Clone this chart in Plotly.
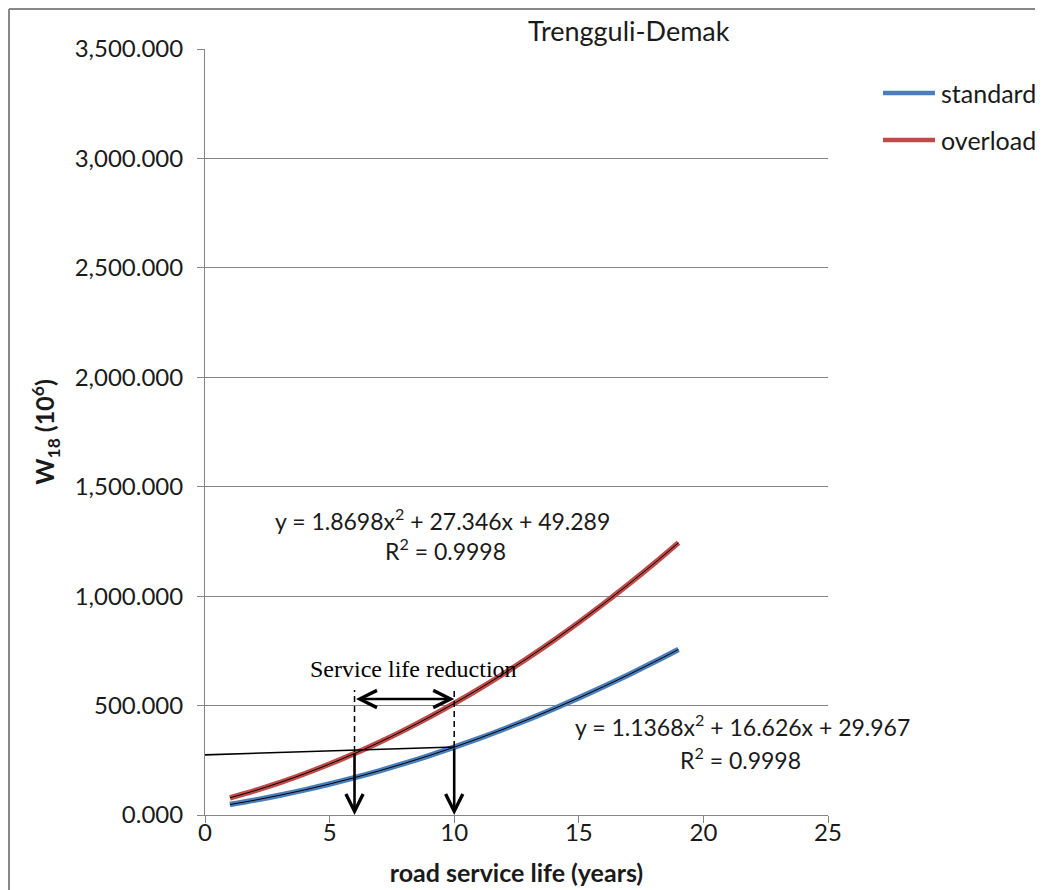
import plotly.graph_objects as go

# ---- data ----
years = list(range(1, 20))
standard = [47.7, 67.8, 90.1, 114.7, 141.5, 170.6, 202.1, 235.7, 271.7, 309.9,
            350.4, 393.2, 438.2, 485.5, 535.1, 587.0, 641.1, 697.6, 756.2]
overload = [78.5, 111.5, 148.2, 188.6, 232.8, 280.7, 332.3, 387.7, 446.9, 509.7,
            576.3, 646.7, 720.8, 798.6, 880.2, 965.5, 1054.5, 1147.3, 1243.9]

series_names = ["standard", "overload"]
series_colors = ["#4A7EBB", "#BE4B48"]

x_ticks = [0, 5, 10, 15, 20, 25]
y_ticks = [0, 500, 1000, 1500, 2000, 2500, 3000, 3500]

# annotation geometry
reduction_years = [6, 10]          # overload / standard years at same W18
reduction_w = [288, 311]           # where the horizontal guide meets each curve
guide_start = [-0.2, 274]          # left end of the thin guide line
dash_top = 571                     # top of the dashed verticals
double_arrow_y = 530               # level of the double-headed arrow

eq_overload = ["y = 1.8698x<sup>2</sup> + 27.346x + 49.289", "R<sup>2</sup> = 0.9998"]
eq_standard = ["y = 1.1368x<sup>2</sup> + 16.626x + 29.967", "R<sup>2</sup> = 0.9998"]

FONT = "Lato"
GRID = "#868686"
TXT = "#1a1a1a"

fig = go.Figure()
for name, col, vals in zip(series_names, series_colors, [standard, overload]):
    fig.add_trace(go.Scatter(x=years, y=vals, mode="lines", name=name,
                             line=dict(color=col, width=5.5, shape="spline"),
                             showlegend=False))
for vals in [standard, overload]:
    fig.add_trace(go.Scatter(x=years, y=vals, mode="lines",
                             line=dict(color="black", width=1.0, shape="spline"),
                             showlegend=False, hoverinfo="skip"))

# guide line
fig.add_trace(go.Scatter(x=[guide_start[0], reduction_years[1]],
                         y=[guide_start[1], reduction_w[1]], mode="lines",
                         line=dict(color="black", width=1.6),
                         showlegend=False, hoverinfo="skip", cliponaxis=False))

shapes = []
annotations = []
for yr, w in zip(reduction_years, reduction_w):
    shapes.append(dict(type="line", xref="x", yref="y", x0=yr, x1=yr, y0=w, y1=dash_top,
                       line=dict(color="black", width=1.5, dash="6px,4px")))
    annotations.append(dict(x=yr, y=0, ax=yr, ay=w, xref="x", yref="y", axref="x", ayref="y",
                            showarrow=True, arrowhead=5, arrowsize=1.3, arrowwidth=2.6,
                            arrowcolor="black", text=""))

annotations.append(dict(x=reduction_years[1], y=double_arrow_y, ax=reduction_years[0], ay=double_arrow_y,
                        xref="x", yref="y", axref="x", ayref="y", showarrow=True,
                        arrowhead=5, startarrowhead=5, arrowside="end+start",
                        arrowsize=1.3, startarrowsize=1.3, arrowwidth=2.6, arrowcolor="black", text=""))
annotations.append(dict(x=8.35, y=667, xref="x", yref="y", showarrow=False,
                        text="Service life reduction",
                        font=dict(family="Liberation Serif", size=24, color="black")))

# trendline equations
eq_font = dict(family=FONT, size=23, color=TXT)
annotations.append(dict(x=9.55, y=1348, xref="x", yref="y", showarrow=False, text=eq_overload[0], font=eq_font))
annotations.append(dict(x=9.67, y=1211, xref="x", yref="y", showarrow=False, text=eq_overload[1], font=eq_font))
annotations.append(dict(x=21.55, y=407, xref="x", yref="y", showarrow=False, text=eq_standard[0], font=eq_font))
annotations.append(dict(x=21.5, y=260, xref="x", yref="y", showarrow=False, text=eq_standard[1], font=eq_font))

# title
annotations.append(dict(x=0.6806, y=1.0248, xref="paper", yref="paper", showarrow=False,
                        xanchor="center", yanchor="middle",
                        text="Trengguli-Demak", font=dict(family=FONT, size=27, color=TXT)))

# manual legend
leg_y = [0.9426, 0.8812]
for name, col, ly in zip(series_names, series_colors, leg_y):
    shapes.append(dict(type="line", xref="paper", yref="paper", x0=1.0883, x1=1.1717,
                       y0=ly, y1=ly, line=dict(color=col, width=4.5)))
    annotations.append(dict(x=1.178, y=ly, xref="paper", yref="paper", xanchor="left",
                            yanchor="middle", showarrow=False, text=name,
                            font=dict(family=FONT, size=25, color=TXT)))

# outer border (left and top)
shapes.append(dict(type="line", xref="paper", yref="paper", x0=-0.3146, x1=-0.3146,
                   y0=-0.2, y1=1.0522, line=dict(color="#888888", width=2)))
shapes.append(dict(type="line", xref="paper", yref="paper", x0=-0.3146, x1=1.4,
                   y0=1.0522, y1=1.0522, line=dict(color="#888888", width=2)))

fig.update_layout(
    width=1035, height=882,
    margin=dict(l=197, r=215, t=41, b=75),
    plot_bgcolor="white", paper_bgcolor="white",
    font=dict(family=FONT, size=24, color=TXT),
    shapes=shapes, annotations=annotations,
    showlegend=False,
)
fig.update_xaxes(range=[0, 25], tickvals=x_ticks, showgrid=False, zeroline=False,
                 showline=True, linecolor=GRID, linewidth=1, ticks="outside", automargin=False,
                 ticklen=7, tickcolor=GRID, tickfont=dict(size=24), ticklabelstandoff=-11,
                 title=dict(text="<b>road service life (years)</b>", font=dict(size=25), standoff=19))
fig.update_yaxes(range=[0, 3500], tickvals=y_ticks, tickformat=",.3f", showgrid=True,
                 gridcolor=GRID, gridwidth=1, zeroline=False, showline=True, linecolor=GRID,
                 linewidth=1, ticks="outside", ticklen=7, tickcolor=GRID, automargin=False,
                 tickfont=dict(size=24), ticklabelstandoff=9,
                 title=dict(text="<b>W<sub>18</sub> (10<sup>6</sup>)</b>", font=dict(size=25), standoff=12))

fig.write_html("out.html")
